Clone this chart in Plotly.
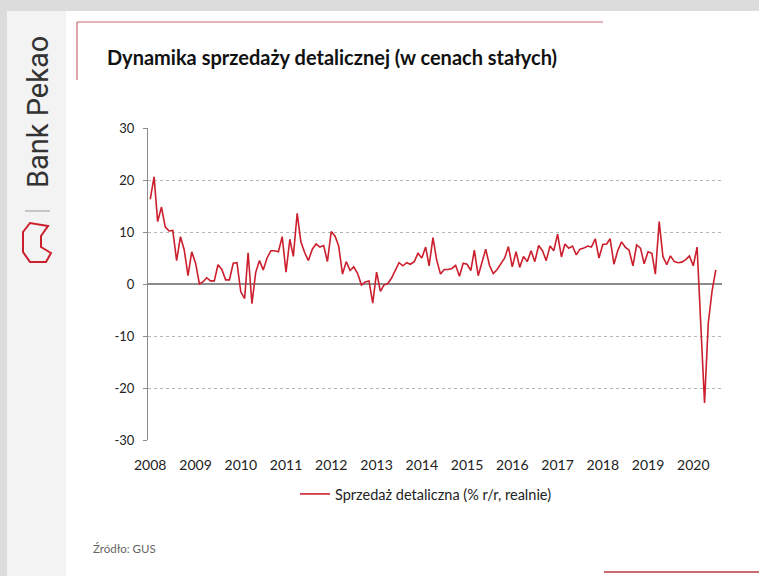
import pandas as pd
import plotly.graph_objects as go

# ---- data: monthly retail sales y/y (constant prices), Jan 2008 - Jul 2020
start_month = "2008-01-01"
sales_2008 = [16.3, 20.6, 12.0, 14.8, 11.0, 10.2, 10.3, 4.5, 9.1, 6.6, 1.6, 6.2]
sales_2009 = [4.0, 0.0, 0.4, 1.2, 0.6, 0.6, 3.7, 2.8, 0.8, 0.8, 4.0, 4.1]
sales_2010 = [-1.5, -2.8, 6.0, -3.8, 2.2, 4.5, 2.7, 5.0, 6.4, 6.4, 6.2, 9.1]
sales_2011 = [2.3, 8.6, 5.3, 13.6, 8.1, 6.0, 4.5, 6.7, 7.7, 7.1, 7.4, 4.3]
sales_2012 = [10.1, 9.2, 7.3, 1.9, 4.3, 2.6, 3.3, 2.0, -0.2, 0.4, 0.6, -3.7]
sales_2013 = [2.3, -1.4, -0.2, 0.1, 1.1, 2.7, 4.1, 3.5, 4.1, 3.8, 4.3, 5.9]
sales_2014 = [5.0, 7.1, 3.5, 8.9, 4.6, 1.9, 2.8, 2.8, 3.0, 3.6, 1.5, 4.0]
sales_2015 = [3.8, 2.6, 6.5, 1.6, 4.3, 6.7, 3.6, 2.0, 2.8, 3.8, 5.0, 7.2]
sales_2016 = [3.3, 6.2, 3.2, 5.3, 4.3, 6.4, 4.3, 7.4, 6.4, 4.5, 7.3, 6.4]
sales_2017 = [9.6, 5.2, 7.7, 6.9, 7.3, 5.6, 6.7, 6.9, 7.3, 7.1, 8.7, 5.0]
sales_2018 = [7.6, 7.7, 8.7, 3.8, 6.4, 8.1, 7.1, 6.5, 3.5, 7.5, 6.9, 3.9]
sales_2019 = [6.2, 5.9, 1.9, 12.0, 5.3, 3.7, 5.4, 4.3, 4.1, 4.2, 4.7, 5.4]
sales_2020 = [3.5, 7.1, -7.5, -22.9, -7.6, -1.3, 2.7]

year_labels = ["2008", "2009", "2010", "2011", "2012", "2013", "2014",
               "2015", "2016", "2017", "2018", "2019", "2020"]
y_ticks = [-30, -20, -10, 0, 10, 20, 30]
y_tick_labels = ["-30", "-20", "-10", "0", "10", "20", "30"]

series_name = "Sprzedaż detaliczna (% r/r, realnie)"
title_text = "Dynamika sprzedaży detalicznej (w cenach stałych)"
source_text = "Źródło: GUS"

values = (sales_2008 + sales_2009 + sales_2010 + sales_2011 + sales_2012 +
          sales_2013 + sales_2014 + sales_2015 + sales_2016 + sales_2017 +
          sales_2018 + sales_2019 + sales_2020)
dates = pd.date_range(start_month, periods=len(values), freq="MS")
tick_dates = [pd.Timestamp(f"{y}-01-01") for y in year_labels]

# ---- layout geometry (pixels)
W, H = 759, 576
L, R, T, B = 148, 37, 128, 136
PW, PH = W - L - R, H - T - B


def px(x):
    return (x - L) / PW


def py(y):
    return 1 - (y - T) / PH


RED = "#cc1f2d"
FONT = "Lato"

fig = go.Figure()
fig.add_trace(go.Scatter(
    x=dates, y=values, mode="lines", name=series_name,
    line=dict(color=RED, width=1.6), showlegend=True,
))

shapes = [
    # grey top band
    dict(type="rect", xref="paper", yref="paper", x0=px(0), x1=px(W),
         y0=py(0), y1=py(11), fillcolor="#dcdcdc", line=dict(width=0), layer="below"),
    # left logo panel
    dict(type="rect", xref="paper", yref="paper", x0=px(0), x1=px(66),
         y0=py(11), y1=py(H), fillcolor="#f3f3f3", line=dict(width=0), layer="below"),
    dict(type="rect", xref="paper", yref="paper", x0=px(0), x1=px(7),
         y0=py(11), y1=py(H), fillcolor="#dcdcdc", line=dict(width=0), layer="below"),
    # red frame lines
    dict(type="line", xref="paper", yref="paper", x0=px(77), x1=px(603),
         y0=py(22), y1=py(22), line=dict(color="#c96a72", width=1.2)),
    dict(type="line", xref="paper", yref="paper", x0=px(77), x1=px(77),
         y0=py(22), y1=py(80), line=dict(color="#c96a72", width=1.2)),
    dict(type="line", xref="paper", yref="paper", x0=px(604), x1=px(W),
         y0=py(572), y1=py(572), line=dict(color="#c96a72", width=2)),
    # separator next to the bank name
    dict(type="line", xref="paper", yref="paper", x0=px(25), x1=px(50),
         y0=py(211), y1=py(211), line=dict(color="#999999", width=1)),
    # simple logo outline
    dict(type="path", xref="paper", yref="paper",
         path=(f"M {px(48)},{py(226)} L {px(30)},{py(223)} L {px(23)},{py(232)} "
               f"L {px(23)},{py(252)} L {px(30)},{py(262)} L {px(46)},{py(262)} "
               f"L {px(51)},{py(253)} L {px(41)},{py(247)} L {px(41)},{py(236)} Z"),
         line=dict(color=RED, width=2), fillcolor="rgba(0,0,0,0)"),
]

annotations = [
    dict(text=f"<b>{title_text}</b>", xref="paper", yref="paper",
         x=px(105), y=py(57), xanchor="left", yanchor="middle", showarrow=False,
         font=dict(family=FONT, size=20, color="#111111")),
    dict(text=source_text, xref="paper", yref="paper",
         x=px(91), y=py(548), xanchor="left", yanchor="middle", showarrow=False,
         font=dict(family=FONT, size=11.5, color="#666666")),
    dict(text="Bank Pekao", xref="paper", yref="paper", textangle=-90,
         x=px(38), y=py(112), xanchor="center", yanchor="middle", showarrow=False,
         font=dict(family="Roboto", size=29, color="#333333")),
]

fig.update_layout(
    width=W, height=H,
    margin=dict(l=L, r=R, t=T, b=B),
    paper_bgcolor="white", plot_bgcolor="white",
    font=dict(family=FONT, color="#222222"),
    shapes=shapes, annotations=annotations,
    legend=dict(orientation="h", x=px(426), y=py(494), xanchor="center",
                yanchor="middle", font=dict(family=FONT, size=14.5, color="#222222"),
                bgcolor="rgba(0,0,0,0)"),
    xaxis=dict(range=[pd.Timestamp("2007-12-14"), pd.Timestamp("2020-08-20")],
               tickvals=tick_dates, ticktext=year_labels, showgrid=False,
               showline=False, zeroline=False, ticks="",
               tickfont=dict(family=FONT, size=14, color="#222222"),
               ticklabelstandoff=15),
    yaxis=dict(range=[-30, 30], tickvals=y_ticks, ticktext=y_tick_labels,
               showgrid=True, gridcolor="#b5b5b5", griddash="dot", gridwidth=1,
               zeroline=True, zerolinecolor="#8c8c8c", zerolinewidth=1.5,
               showline=True, linecolor="#8c8c8c", linewidth=1,
               ticks="outside", ticklen=4, tickcolor="#8c8c8c",
               tickfont=dict(family=FONT, size=13, color="#222222"),
               ticklabelstandoff=6),
)

fig.write_html("out.html")
